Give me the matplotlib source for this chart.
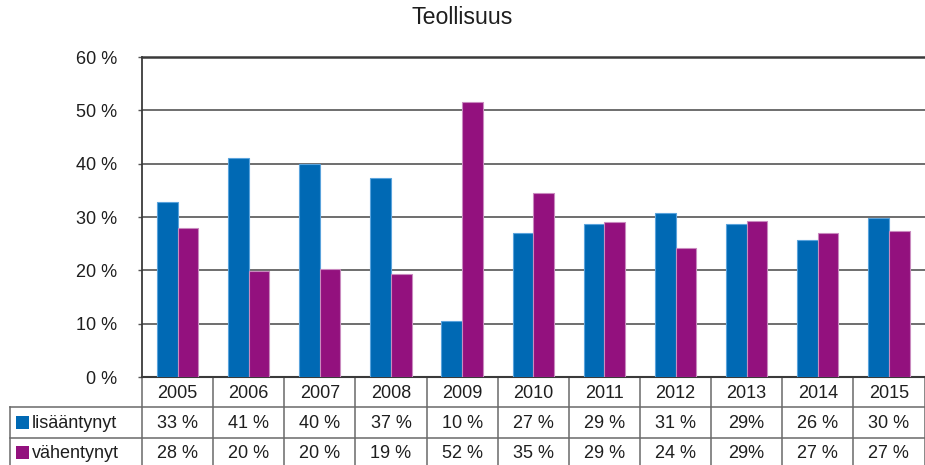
import matplotlib
matplotlib.use("Agg")
import matplotlib.pyplot as plt
from matplotlib.lines import Line2D
from matplotlib.patches import Rectangle
import numpy as np

plt.rcParams['font.family'] = ['Liberation Sans', 'DejaVu Sans']

title = "Teollisuus"
years = ["2005", "2006", "2007", "2008", "2009", "2010", "2011", "2012", "2013", "2014", "2015"]
series_names = ["lisääntynyt", "vähentynyt"]
lisaantynyt = [32.8, 41.0, 39.9, 37.3, 10.5, 27.0, 28.7, 30.8, 28.7, 25.6, 29.9]
vahentynyt = [27.9, 19.9, 20.3, 19.3, 51.6, 34.5, 29.1, 24.1, 29.3, 27.0, 27.4]
lis_labels = ["33 %", "41 %", "40 %", "37 %", "10 %", "27 %", "29 %", "31 %", "29%", "26 %", "30 %"]
vah_labels = ["28 %", "20 %", "20 %", "19 %", "52 %", "35 %", "29 %", "24 %", "29%", "27 %", "27 %"]
yticks = [0, 10, 20, 30, 40, 50, 60]
ytick_labels = ["0 %", "10 %", "20 %", "30 %", "40 %", "50 %", "60 %"]

blue = "#0069b4"
blue_edge = "#5aa3dc"
purple = "#93117e"
purple_edge = "#c98abf"
txt = "#1e1e1e"
grid_c = "#6e6e6e"
line_c = "#6a6a6a"
fs = 13

W, H = 925, 465
fig = plt.figure(figsize=(W / 100, H / 100), dpi=100)
ax_left, ax_right, ax_top, ax_bot = 142, 924.5, 57, 377
ax = fig.add_axes([ax_left / W, 1 - ax_bot / H, (ax_right - ax_left) / W, (ax_bot - ax_top) / H])

x = np.arange(len(years))
bw = 0.29
ax.bar(x - bw / 2, lisaantynyt, width=bw, color=blue, edgecolor=blue_edge, linewidth=0.8, zorder=3)
ax.bar(x + bw / 2, vahentynyt, width=bw, color=purple, edgecolor=purple_edge, linewidth=0.8, zorder=3)

ax.set_xlim(-0.5, len(years) - 0.5)
ax.set_ylim(0, 60)
ax.set_yticks(yticks)
ax.set_yticklabels(ytick_labels, fontsize=fs, color=txt)
ax.set_xticks([])
ax.tick_params(axis='y', length=3, width=1, color="#555555", pad=15)
for yy in yticks[1:-1]:
    ax.axhline(yy, color=grid_c, linewidth=1.4, zorder=1)
for s in ['left', 'top', 'bottom']:
    ax.spines[s].set_color("#3a3a3a")
ax.spines['left'].set_linewidth(1.3)
ax.spines['top'].set_linewidth(1.8)
ax.spines['bottom'].set_linewidth(1.5)
ax.spines['right'].set_visible(False)

fig.text(0.5, 1 - 18 / H, title, ha='center', va='center', fontsize=16.7, color=txt)

# table in pixel coordinates
tax = fig.add_axes([0, 0, 1, 1], zorder=-1)
tax.set_xlim(0, W)
tax.set_ylim(H, 0)
tax.axis('off')

colw = (ax_right - ax_left) / len(years)
r1, r2, r3, r4 = 377, 407, 438, 468
lab_left = 9.5


def hline(y, x0, x1):
    tax.add_line(Line2D([x0, x1], [y, y], color=line_c, linewidth=1.1))


def vline(xx, y0, y1):
    tax.add_line(Line2D([xx, xx], [y0, y1], color=line_c, linewidth=1.1))


hline(r2, lab_left, ax_right)
hline(r3, lab_left, ax_right)
vline(lab_left, r2, r4)
for k in range(len(years) + 1):
    vline(ax_left + k * colw, r1, r4)

for i, yr in enumerate(years):
    cx = ax_left + (i + 0.5) * colw
    tax.text(cx, (r1 + r2) / 2 + 1, yr, ha='center', va='center', fontsize=fs, color=txt)
    tax.text(cx, (r2 + r3) / 2 + 1, lis_labels[i], ha='center', va='center', fontsize=fs, color=txt)
    tax.text(cx, (r3 + 465) / 2 + 2, vah_labels[i], ha='center', va='center', fontsize=fs, color=txt)

for (yc, name, col) in [((r2 + r3) / 2, series_names[0], blue), ((r3 + 465) / 2 + 1, series_names[1], purple)]:
    tax.add_patch(Rectangle((16, yc - 6.5), 13, 13, facecolor=col, edgecolor='none'))
    tax.text(32, yc + 1, name, ha='left', va='center', fontsize=fs, color=txt)

fig.savefig("out.png", dpi=100)
